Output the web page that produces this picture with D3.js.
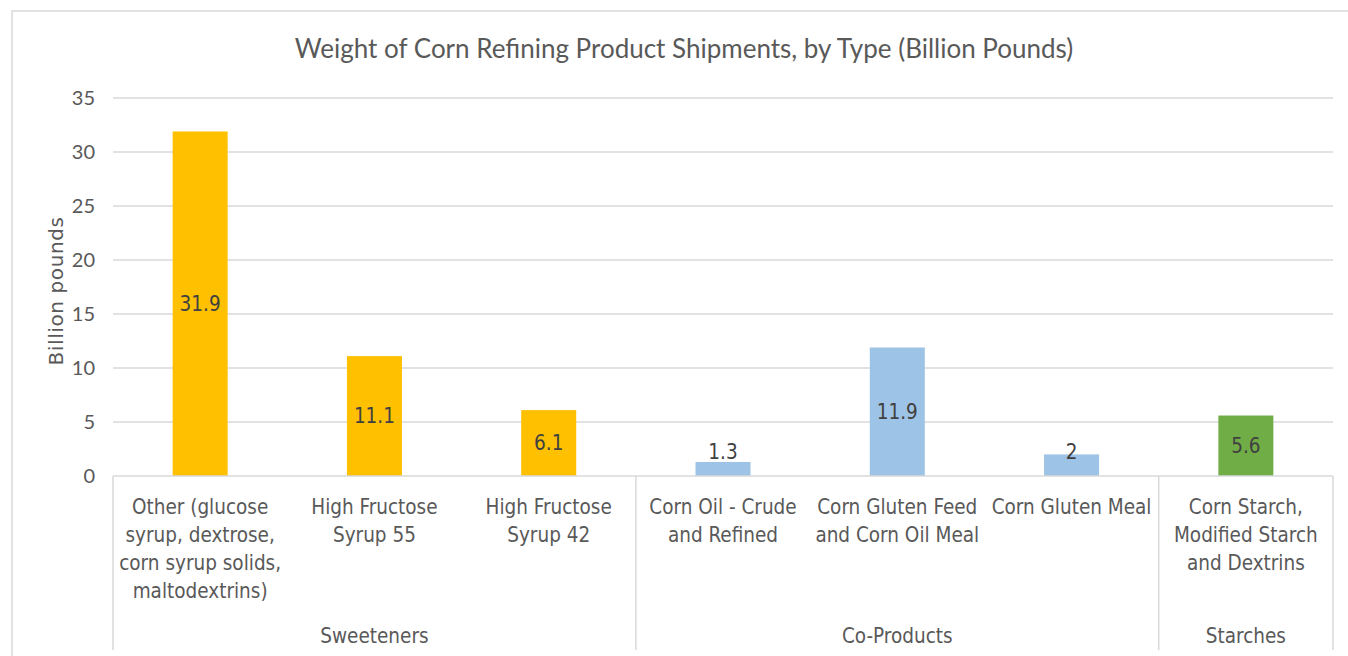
<!DOCTYPE html>
<html><head><meta charset="utf-8">
<script src="https://cdn.jsdelivr.net/npm/d3@7/dist/d3.min.js"></script>
<style>
html,body{margin:0;padding:0;background:#fff;}
svg{display:block;}
</style></head>
<body>
<svg id="chart" width="1348" height="656"></svg>
<script>
const categories = [
  ["Other (glucose","syrup, dextrose,","corn syrup solids,","maltodextrins)"],
  ["High Fructose","Syrup 55"],
  ["High Fructose","Syrup 42"],
  ["Corn Oil - Crude","and Refined"],
  ["Corn Gluten Feed","and Corn Oil Meal"],
  ["Corn Gluten Meal"],
  ["Corn Starch,","Modified Starch","and Dextrins"]
];
const values = [31.9, 11.1, 6.1, 1.3, 11.9, 2, 5.6];
const labels = ["31.9","11.1","6.1","1.3","11.9","2","5.6"];
const groups = ["Sweeteners","Sweeteners","Sweeteners","Co-Products","Co-Products","Co-Products","Starches"];
const groupNames = ["Sweeteners","Co-Products","Starches"];
const groupColors = ["#FFC000","#9DC3E6","#70AD47"];
const yTicks = [0,5,10,15,20,25,30,35];
const title = "Weight of Corn Refining Product Shipments, by Type (Billion Pounds)";
const yTitle = "Billion pounds";

(function(){
const svg = d3.select("#chart");
const pL = 113, pR = 1333, pT = 98, base = 476, pB = 650;
const idx = d3.range(values.length);
const x = d3.scaleBand().domain(idx).range([pL, pR]).paddingInner(0).paddingOuter(0);
const y = d3.scaleLinear().domain([0, 35]).range([base, pT]);
const color = d3.scaleOrdinal().domain(groupNames).range(groupColors);
const catFont = "'DejaVu Sans Condensed','DejaVu Sans',sans-serif";

svg.append("rect").attr("x",12).attr("y",11).attr("width",1400).attr("height",700)
  .attr("fill","none").attr("stroke","#d9d9d9").attr("stroke-width",1.5);

svg.append("text").attr("x",684).attr("y",58).attr("text-anchor","middle")
  .attr("font-family","Lato, 'Open Sans', sans-serif").attr("font-size",26)
  .attr("fill","#595959").text(title);

svg.append("g").selectAll("line").data(yTicks.filter(d=>d>0)).join("line")
  .attr("x1",pL).attr("x2",pR).attr("y1",d=>y(d)).attr("y2",d=>y(d))
  .attr("stroke","#d9d9d9").attr("stroke-width",1.5);

const yAxis = d3.axisLeft(y).tickValues(yTicks).tickSize(0).tickPadding(18);
const ga = svg.append("g").attr("transform",`translate(${pL},0)`).call(yAxis);
ga.select(".domain").remove();
ga.selectAll("text").attr("font-family","Lato, sans-serif").attr("font-size",20).attr("fill","#595959");

svg.append("text").attr("transform",`translate(63,291) rotate(-90)`).attr("text-anchor","middle")
  .attr("font-family","'DejaVu Sans',sans-serif").attr("font-size",20).attr("letter-spacing",0.6)
  .attr("fill","#595959").text(yTitle);

const bw = 55;
svg.append("g").selectAll("rect").data(idx).join("rect")
  .attr("x",i=>x(i)+x.bandwidth()/2-bw/2).attr("width",bw)
  .attr("y",i=>y(values[i])).attr("height",i=>base-y(values[i]))
  .attr("fill",i=>color(groups[i]));

svg.append("g").selectAll("text").data(idx).join("text")
  .attr("x",i=>x(i)+x.bandwidth()/2)
  .attr("y",i=>Math.min((y(values[i])+base)/2, base-24))
  .attr("dy","0.35em").attr("text-anchor","middle")
  .attr("font-family",catFont).attr("font-size",20.5)
  .attr("fill","#404040").text(i=>labels[i]);

svg.append("line").attr("x1",pL).attr("x2",pR).attr("y1",base).attr("y2",base)
  .attr("stroke","#d9d9d9").attr("stroke-width",1.5);

const seps = [0,3,6,7];
svg.append("g").selectAll("line").data(seps).join("line")
  .attr("x1",i=>i<7?x(i):pR).attr("x2",i=>i<7?x(i):pR)
  .attr("y1",base).attr("y2",pB)
  .attr("stroke","#d9d9d9").attr("stroke-width",1.5);

const cl = svg.append("g");
idx.forEach(i=>{
  const t = cl.append("text").attr("text-anchor","middle")
    .attr("font-family",catFont).attr("font-size",20.5)
    .attr("fill","#595959");
  categories[i].forEach((ln,k)=>t.append("tspan").attr("x",x(i)+x.bandwidth()/2).attr("y",514+k*28).text(ln));
});

groupNames.forEach(g=>{
  const members = idx.filter(i=>groups[i]===g);
  const x0 = x(members[0]), x1 = x(members[members.length-1])+x.bandwidth();
  svg.append("text").attr("x",(x0+x1)/2).attr("y",643).attr("text-anchor","middle")
    .attr("font-family",catFont).attr("font-size",20.5)
    .attr("fill","#595959").text(g);
});
})();
</script>
</body></html>
